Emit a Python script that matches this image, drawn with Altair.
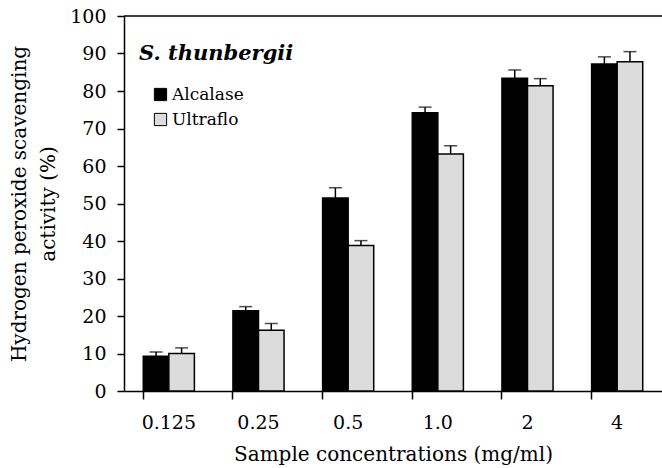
import altair as alt
import pandas as pd

conc = ["0.125", "0.25", "0.5", "1.0", "2", "4"]
alcalase = [9.3, 21.4, 51.5, 74.2, 83.4, 87.2]
alcalase_err = [1.1, 1.1, 2.7, 1.5, 2.2, 1.9]
ultraflo = [10.0, 16.2, 38.8, 63.2, 81.4, 87.8]
ultraflo_err = [1.5, 1.8, 1.3, 2.2, 1.9, 2.7]
series = ["Alcalase", "Ultraflo"]

rows = []
for i, c in enumerate(conc):
    rows.append({"conc": c, "enzyme": series[0], "value": alcalase[i], "top": alcalase[i] + alcalase_err[i]})
    rows.append({"conc": c, "enzyme": series[1], "value": ultraflo[i], "top": ultraflo[i] + ultraflo_err[i]})
df = pd.DataFrame(rows)

FONT = "DejaVu Serif"
X_TITLE = "Sample concentrations (mg/ml)"
Y_TITLE = ["Hydrogen peroxide scavenging", "activity (%)"]

x_axis = alt.Axis(labelAngle=0, bandPosition=0, tickSize=8, tickWidth=1.5,
                  domainWidth=1.5, labelPadding=14, titlePadding=12,
                  labelFont=FONT, titleFont=FONT, titleFontWeight="normal",
                  labelColor="#000000", titleColor="#000000",
                  domainColor="#000000", tickColor="#000000",
                  labelFontSize=19, titleFontSize=20)
y_axis = alt.Axis(values=list(range(0, 101, 10)), tickSize=7, tickWidth=1.5,
                  domainWidth=1.5, grid=False, labelPadding=11, titlePadding=11,
                  labelFont=FONT, titleFont=FONT, titleFontWeight="normal",
                  labelColor="#000000", titleColor="#000000",
                  domainColor="#000000", tickColor="#000000",
                  labelFontSize=19, titleFontSize=20, titleLineHeight=29)
x_scale = alt.Scale(paddingInner=0.43, paddingOuter=0.215)
y_scale = alt.Scale(domain=[0, 100], nice=False)


def X():
    return alt.X("conc:N", sort=conc, title=X_TITLE, scale=x_scale, axis=x_axis)


def Y(field):
    return alt.Y(field, title=Y_TITLE, scale=y_scale, axis=y_axis)


xoff = alt.XOffset("enzyme:N", sort=series, scale=alt.Scale(paddingInner=0, paddingOuter=0))

color = alt.Color("enzyme:N", sort=series,
                  scale=alt.Scale(domain=series, range=["#000000", "#dcdcdc"]),
                  legend=alt.Legend(title=None, orient="none", legendX=28, legendY=70,
                                    symbolType="square", symbolSize=150,
                                    symbolStrokeColor="#000000", symbolStrokeWidth=1,
                                    labelFont=FONT, labelFontSize=17, rowPadding=7,
                                    labelColor="#000000", labelOffset=3))

bars = alt.Chart(df).mark_bar(stroke="#000000", strokeWidth=1.5).encode(
    x=X(), xOffset=xoff, y=Y("value:Q"), color=color)

err = alt.Chart(df).mark_rule(color="#000000", strokeWidth=1.5).encode(
    x=X(), xOffset=xoff, y=Y("value:Q"), y2="top:Q")

caps = alt.Chart(df).mark_tick(color="#000000", thickness=1.5, size=13).encode(
    x=X(), xOffset=xoff, y=Y("top:Q"))

top_line = alt.Chart(pd.DataFrame({"v": [100]})).mark_rule(color="#000000", strokeWidth=1.5).encode(
    y=Y("v:Q"))

title = alt.Chart(pd.DataFrame({"t": ["S. thunbergii"]})).mark_text(
    font=FONT, fontSize=21, fontWeight="bold", fontStyle="italic", align="left",
    baseline="alphabetic", color="#000000").encode(
    text="t:N", x=alt.value(15), y=alt.value(44))

chart = alt.layer(bars, err, caps, top_line, title).properties(
    width=538, height=375,
    background="#ffffff",
    autosize=alt.AutoSizeParams(type="none"),
    padding={"left": 124, "top": 16, "right": 0, "bottom": 77},
).configure_view(stroke=None)

chart.save("out.html", embed_options={"renderer": "svg", "actions": False})
